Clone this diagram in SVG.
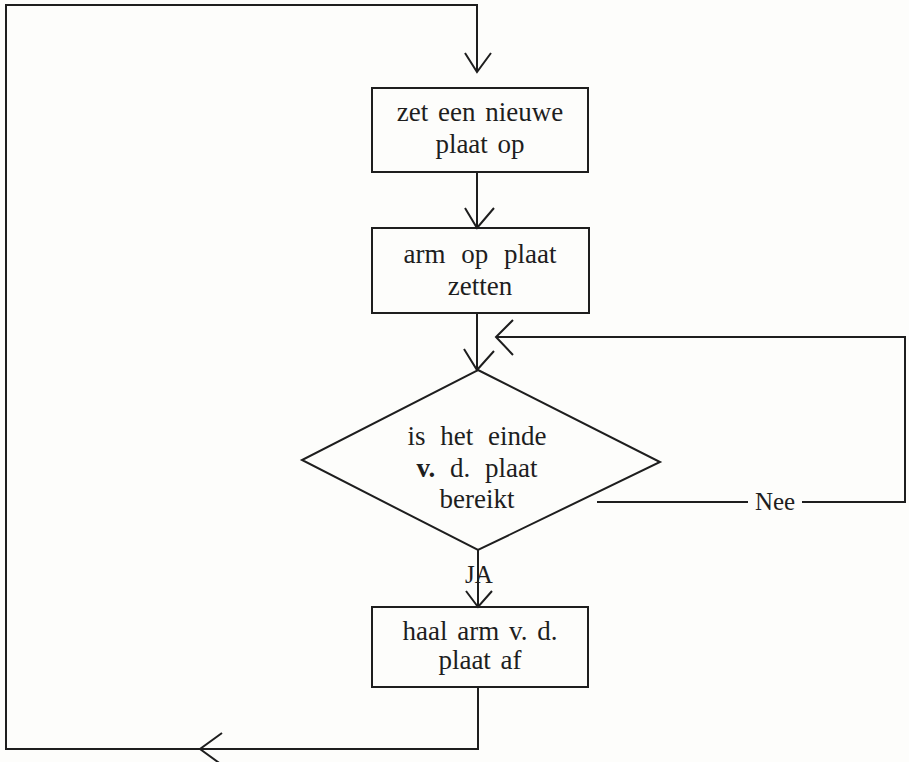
<svg xmlns="http://www.w3.org/2000/svg" width="909" height="762" viewBox="0 0 909 762">
<style>
.ln{fill:none;stroke:#1e1e1e;stroke-width:2;stroke-linejoin:miter}
.nd{fill:none;stroke:#1e1e1e;stroke-width:2}
.t{font-family:"Liberation Serif","DejaVu Serif",serif;font-size:27px;fill:#1e1e1e;text-anchor:middle;word-spacing:3px}
.lb{font-family:"Liberation Serif","DejaVu Serif",serif;font-size:25px;fill:#1e1e1e;text-anchor:middle}
</style>
<rect width="909" height="762" fill="#fdfdfb"/>
<g id="connectors">
<polyline class="ln" points="478,687 478,749 6,749 6,5 477,5 477,72"/>
<polyline class="ln" points="465,53 477,72 491,53"/>
<polyline class="ln" points="222,733 200,749 222,765"/>
<line class="ln" x1="477" y1="172" x2="477" y2="228"/>
<polyline class="ln" points="465,208 477,228 494,208"/>
<line class="ln" x1="477" y1="313" x2="477" y2="370"/>
<polyline class="ln" points="464,349 477,370 494,351"/>
<line class="ln" x1="478" y1="550" x2="478" y2="607"/>
<polyline class="ln" points="466,591 478,607 492,591"/>
<polyline class="ln" points="597,502 748,502"/>
<polyline class="ln" points="802,502 905,502 905,337 496,337"/>
<polyline class="ln" points="513,320 496,337 513,355"/>
<text class="lb" x="775" y="510">Nee</text>
<text class="lb" x="479" y="583">JA</text>
</g>
<g id="n1">
<rect class="nd" x="372" y="88" width="216" height="84"/>
<text class="t" x="480" y="121">zet een nieuwe</text>
<text class="t" x="480" y="153">plaat op</text>
</g>
<g id="n2">
<rect class="nd" x="372" y="228" width="217" height="85"/>
<text class="t" x="480" y="263" style="word-spacing:9px">arm op plaat</text>
<text class="t" x="480" y="295">zetten</text>
</g>
<g id="n3">
<polygon class="nd" points="478,370 660,462 478,550 302,460"/>
<text class="t" x="477" y="445" style="word-spacing:8px">is het einde</text>
<text class="t" x="477" y="477" style="word-spacing:8px"><tspan font-weight="bold">v.</tspan> d. plaat</text>
<text class="t" x="477" y="508">bereikt</text>
</g>
<g id="n4">
<rect class="nd" x="372" y="607" width="216" height="80"/>
<text class="t" x="480" y="640">haal arm v. d.</text>
<text class="t" x="480" y="669">plaat af</text>
</g>
</svg>
